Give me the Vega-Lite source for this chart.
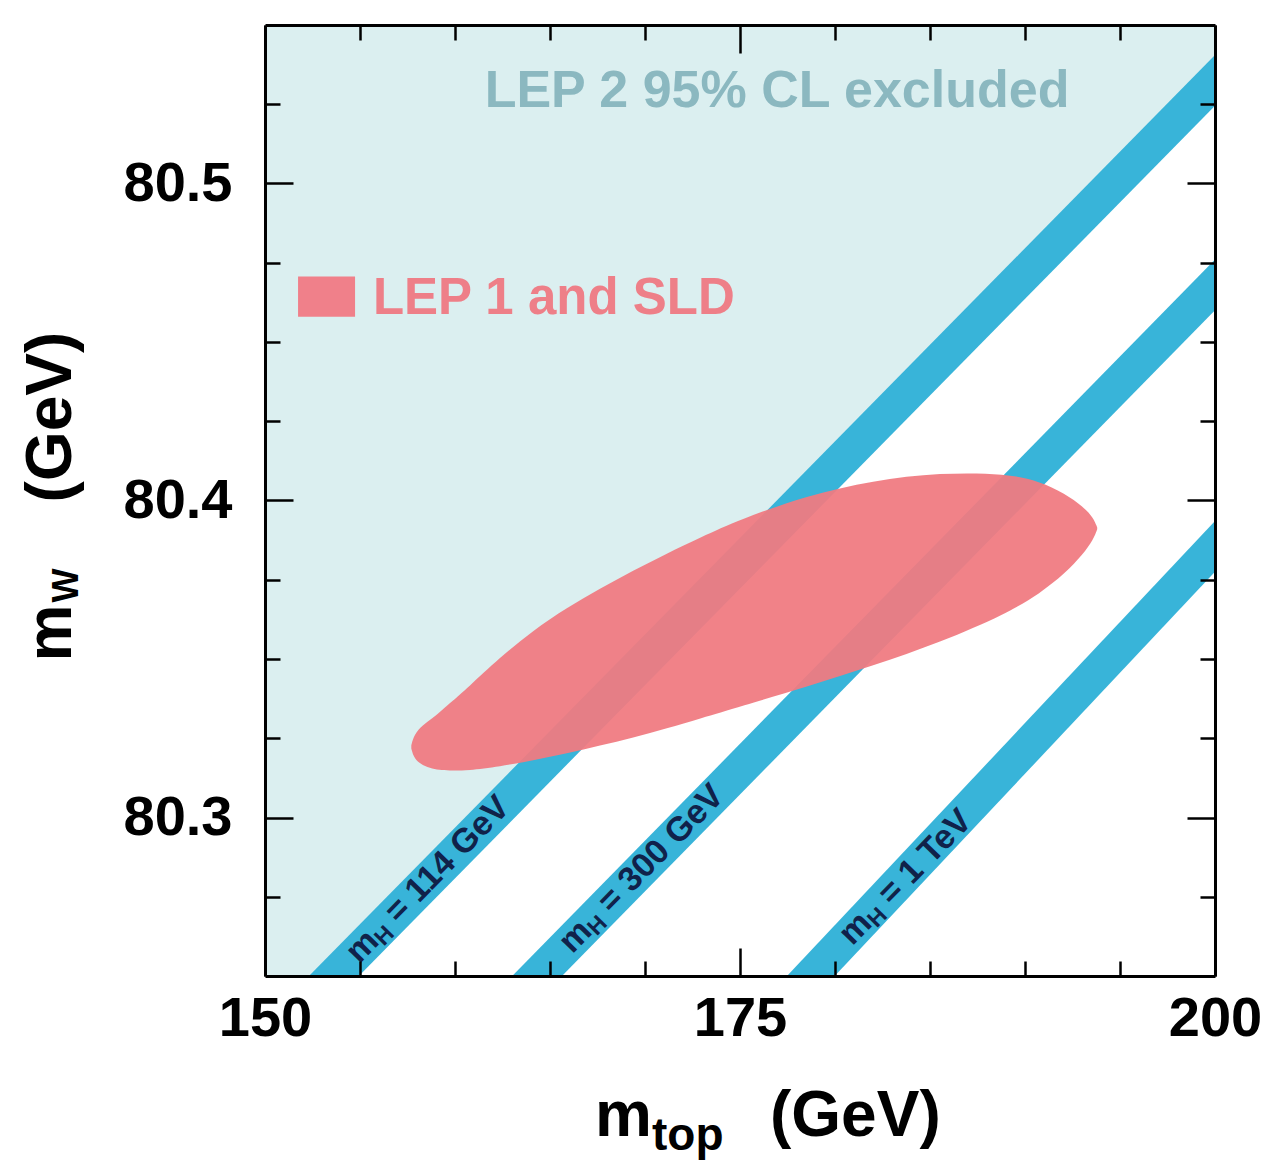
{
"$schema": "https://vega.github.io/schema/vega-lite/v6.json",
"width": 950, "height": 951,
"autosize": {"type": "none"},
"padding": {"left": 265, "top": 25, "right": 51, "bottom": 188},
"background": "white",
"config": {
  "view": {"stroke": null},
  "axis": {"grid": false, "labelFont": "Liberation Sans", "labelFontWeight": "bold", "labelFontSize": 56, "labelColor": "black", "tickColor": "black", "tickWidth": 2.5, "domainColor": "black", "domainWidth": 3, "labelFlush": false, "labelOverlap": false, "labelBound": false}
},
"datasets": {
  "excluded": [{"mtop": 150, "lo": 80.2279, "hi": 80.56}, {"mtop": 200, "lo": 80.5325, "hi": 80.56}],
  "bands": [
    {"band": "114 GeV", "mtop": 150, "lo": 80.2199, "hi": 80.2359},
    {"band": "114 GeV", "mtop": 200, "lo": 80.5245, "hi": 80.5405},
    {"band": "300 GeV", "mtop": 150, "lo": 80.1545, "hi": 80.1705},
    {"band": "300 GeV", "mtop": 200, "lo": 80.4600, "hi": 80.4760},
    {"band": "1 TeV", "mtop": 150, "lo": 80.0590, "hi": 80.0750},
    {"band": "1 TeV", "mtop": 200, "lo": 80.3775, "hi": 80.3935}
  ],
  "ellipse": [
    {"mtop": 157.70, "lo": 80.3218, "hi": 80.3228},
    {"mtop": 157.85, "lo": 80.3185, "hi": 80.3262},
    {"mtop": 158.30, "lo": 80.3164, "hi": 80.3292},
    {"mtop": 158.80, "lo": 80.3154, "hi": 80.3312},
    {"mtop": 159.30, "lo": 80.3149, "hi": 80.3338},
    {"mtop": 159.842, "lo": 80.3148, "hi": 80.3366},
    {"mtop": 160.632, "lo": 80.3148, "hi": 80.3407},
    {"mtop": 162.368, "lo": 80.3161, "hi": 80.3505},
    {"mtop": 164.105, "lo": 80.3180, "hi": 80.3590},
    {"mtop": 165.895, "lo": 80.3202, "hi": 80.3662},
    {"mtop": 167.632, "lo": 80.3227, "hi": 80.3722},
    {"mtop": 169.368, "lo": 80.3252, "hi": 80.3779},
    {"mtop": 171.158, "lo": 80.3281, "hi": 80.3833},
    {"mtop": 172.895, "lo": 80.3312, "hi": 80.3883},
    {"mtop": 175.0, "lo": 80.3350, "hi": 80.3940},
    {"mtop": 178.526, "lo": 80.3413, "hi": 80.4016},
    {"mtop": 182.0, "lo": 80.3479, "hi": 80.4063},
    {"mtop": 185.526, "lo": 80.3552, "hi": 80.4088},
    {"mtop": 189.053, "lo": 80.3644, "hi": 80.4085},
    {"mtop": 190.789, "lo": 80.3707, "hi": 80.4060},
    {"mtop": 192.105, "lo": 80.3770, "hi": 80.4022},
    {"mtop": 193.053, "lo": 80.3830, "hi": 80.3981},
    {"mtop": 193.600, "lo": 80.3877, "hi": 80.3946},
    {"mtop": 193.800, "lo": 80.3909, "hi": 80.3915}
  ],
  "swatch": [{"x1": 151.74, "x2": 154.74, "y1": 80.4580, "y2": 80.4707}],
  "hlabels": [
    {"lab": "= 114 GeV", "mtop": 154.58, "mW": 80.2558},
    {"lab": "= 300 GeV", "mtop": 165.79, "mW": 80.2590},
    {"lab": "= 1 TeV", "mtop": 180.53, "mW": 80.2615}
  ],
  "lep2": [{"lab": "LEP 2 95% CL excluded", "mtop": 176.95, "mW": 80.5240}],
  "lep1": [{"lab": "LEP 1 and SLD", "mtop": 155.68, "mW": 80.4587}],
  "xtm": [{"lab": "m", "mtop": 167.37, "mW": 80.1994}],
  "xtsub": [{"lab": "top", "mtop": 170.37, "mW": 80.1952}],
  "xtunit": [{"lab": "(GeV)", "mtop": 176.58, "mW": 80.1994}],
  "ytm": [{"lab": "m", "mtop": 139.79, "mW": 80.3492}],
  "ytsub": [{"lab": "W", "mtop": 140.16, "mW": 80.3678}],
  "ytunit": [{"lab": "(GeV)", "mtop": 139.79, "mW": 80.3994}]
},
"resolve": {"axis": {"x": "independent", "y": "independent"}},
"layer": [
  {"data": {"name": "excluded"},
   "mark": {"type": "area", "clip": true, "color": "#dbeff0"},
   "encoding": {
     "x": {"field": "mtop", "type": "quantitative", "scale": {"domain": [150, 200], "nice": false, "zero": false},
           "axis": {"orient": "bottom", "values": [150, 175, 200], "format": "d", "tickSize": -28, "labelPadding": 43, "title": null, "domain": true, "zindex": 1}},
     "y": {"field": "lo", "type": "quantitative", "scale": {"domain": [80.25, 80.55], "nice": false, "zero": false},
           "axis": {"orient": "left", "values": [80.3, 80.4, 80.5], "format": ".1f", "tickSize": -28, "labelPadding": 61, "title": null, "domain": true, "zindex": 1}},
     "y2": {"field": "hi"}
   }},
  {"data": {"name": "bands"},
   "mark": {"type": "area", "clip": true, "color": "#38b4d9"},
   "encoding": {
     "x": {"field": "mtop", "type": "quantitative", "scale": {"domain": [150, 200], "nice": false, "zero": false},
           "axis": {"orient": "bottom", "values": [155, 160, 165, 170, 180, 185, 190, 195], "tickSize": -15, "labels": false, "domain": false, "title": null, "zindex": 1}},
     "y": {"field": "lo", "type": "quantitative", "scale": {"domain": [80.25, 80.55], "nice": false, "zero": false},
           "axis": {"orient": "left", "values": [80.275, 80.325, 80.35, 80.375, 80.425, 80.45, 80.475, 80.525], "tickSize": -15, "labels": false, "domain": false, "title": null, "zindex": 1}},
     "y2": {"field": "hi"},
     "detail": {"field": "band"}
   }},
  {"data": {"name": "ellipse"},
   "mark": {"type": "area", "interpolate": "basis", "color": "#f07a81", "opacity": 0.94},
   "encoding": {
     "x": {"field": "mtop", "type": "quantitative", "scale": {"domain": [150, 200], "nice": false, "zero": false},
           "axis": {"orient": "top", "values": [150, 175, 200], "tickSize": -28, "labels": false, "domain": true, "title": null, "zindex": 1}},
     "y": {"field": "lo", "type": "quantitative", "scale": {"domain": [80.25, 80.55], "nice": false, "zero": false},
           "axis": {"orient": "right", "values": [80.3, 80.4, 80.5], "tickSize": -28, "labels": false, "domain": true, "title": null, "zindex": 1}},
     "y2": {"field": "hi"}
   }},
  {"data": {"name": "swatch"},
   "mark": {"type": "rect", "color": "#f0808a"},
   "encoding": {
     "x": {"field": "x1", "type": "quantitative", "scale": {"domain": [150, 200], "nice": false, "zero": false},
           "axis": {"orient": "top", "values": [155, 160, 165, 170, 180, 185, 190, 195], "tickSize": -15, "labels": false, "domain": false, "title": null, "zindex": 1}},
     "x2": {"field": "x2"},
     "y": {"field": "y1", "type": "quantitative", "scale": {"domain": [80.25, 80.55], "nice": false, "zero": false},
           "axis": {"orient": "right", "values": [80.275, 80.325, 80.35, 80.375, 80.425, 80.45, 80.475, 80.525], "tickSize": -15, "labels": false, "domain": false, "title": null, "zindex": 1}},
     "y2": {"field": "y2"}
   }},
  {"data": {"name": "hlabels"},
   "mark": {"type": "text", "text": "m", "angle": 314.4, "align": "left", "baseline": "middle", "font": "Liberation Sans", "fontWeight": "bold", "fontSize": 34, "color": "#10224a"},
   "encoding": {
     "x": {"field": "mtop", "type": "quantitative", "scale": {"domain": [150, 200], "nice": false, "zero": false}, "axis": null},
     "y": {"field": "mW", "type": "quantitative", "scale": {"domain": [80.25, 80.55], "nice": false, "zero": false}, "axis": null}
   }},
  {"data": {"name": "hlabels"},
   "mark": {"type": "text", "text": "H", "angle": 314.4, "align": "left", "baseline": "middle", "dx": 30, "dy": 8, "font": "Liberation Sans", "fontWeight": "bold", "fontSize": 23, "color": "#10224a"},
   "encoding": {
     "x": {"field": "mtop", "type": "quantitative", "scale": {"domain": [150, 200], "nice": false, "zero": false}, "axis": null},
     "y": {"field": "mW", "type": "quantitative", "scale": {"domain": [80.25, 80.55], "nice": false, "zero": false}, "axis": null}
   }},
  {"data": {"name": "hlabels"},
   "mark": {"type": "text", "angle": 314.4, "align": "left", "baseline": "middle", "dx": 56, "font": "Liberation Sans", "fontWeight": "bold", "fontSize": 34, "color": "#10224a"},
   "encoding": {
     "x": {"field": "mtop", "type": "quantitative", "scale": {"domain": [150, 200], "nice": false, "zero": false}, "axis": null},
     "y": {"field": "mW", "type": "quantitative", "scale": {"domain": [80.25, 80.55], "nice": false, "zero": false}, "axis": null},
     "text": {"field": "lab"}
   }},
  {"data": {"name": "lep2"},
   "mark": {"type": "text", "align": "center", "baseline": "alphabetic", "font": "Liberation Sans", "fontWeight": "bold", "fontSize": 52, "color": "#8bb8c0"},
   "encoding": {
     "x": {"field": "mtop", "type": "quantitative", "scale": {"domain": [150, 200], "nice": false, "zero": false}, "axis": null},
     "y": {"field": "mW", "type": "quantitative", "scale": {"domain": [80.25, 80.55], "nice": false, "zero": false}, "axis": null},
     "text": {"field": "lab"}
   }},
  {"data": {"name": "lep1"},
   "mark": {"type": "text", "align": "left", "baseline": "alphabetic", "font": "Liberation Sans", "fontWeight": "bold", "fontSize": 51, "color": "#ee7f88"},
   "encoding": {
     "x": {"field": "mtop", "type": "quantitative", "scale": {"domain": [150, 200], "nice": false, "zero": false}, "axis": null},
     "y": {"field": "mW", "type": "quantitative", "scale": {"domain": [80.25, 80.55], "nice": false, "zero": false}, "axis": null},
     "text": {"field": "lab"}
   }},
  {"data": {"name": "xtm"},
   "mark": {"type": "text", "align": "left", "baseline": "alphabetic", "font": "Liberation Sans", "fontWeight": "bold", "fontSize": 64, "color": "black"},
   "encoding": {
     "x": {"field": "mtop", "type": "quantitative", "scale": {"domain": [150, 200], "nice": false, "zero": false}, "axis": null},
     "y": {"field": "mW", "type": "quantitative", "scale": {"domain": [80.25, 80.55], "nice": false, "zero": false}, "axis": null},
     "text": {"field": "lab"}
   }},
  {"data": {"name": "xtsub"},
   "mark": {"type": "text", "align": "left", "baseline": "alphabetic", "font": "Liberation Sans", "fontWeight": "bold", "fontSize": 46, "color": "black"},
   "encoding": {
     "x": {"field": "mtop", "type": "quantitative", "scale": {"domain": [150, 200], "nice": false, "zero": false}, "axis": null},
     "y": {"field": "mW", "type": "quantitative", "scale": {"domain": [80.25, 80.55], "nice": false, "zero": false}, "axis": null},
     "text": {"field": "lab"}
   }},
  {"data": {"name": "xtunit"},
   "mark": {"type": "text", "align": "left", "baseline": "alphabetic", "font": "Liberation Sans", "fontWeight": "bold", "fontSize": 64, "color": "black"},
   "encoding": {
     "x": {"field": "mtop", "type": "quantitative", "scale": {"domain": [150, 200], "nice": false, "zero": false}, "axis": null},
     "y": {"field": "mW", "type": "quantitative", "scale": {"domain": [80.25, 80.55], "nice": false, "zero": false}, "axis": null},
     "text": {"field": "lab"}
   }},
  {"data": {"name": "ytm"},
   "mark": {"type": "text", "angle": 270, "align": "left", "baseline": "alphabetic", "font": "Liberation Sans", "fontWeight": "bold", "fontSize": 64, "color": "black"},
   "encoding": {
     "x": {"field": "mtop", "type": "quantitative", "scale": {"domain": [150, 200], "nice": false, "zero": false}, "axis": null},
     "y": {"field": "mW", "type": "quantitative", "scale": {"domain": [80.25, 80.55], "nice": false, "zero": false}, "axis": null},
     "text": {"field": "lab"}
   }},
  {"data": {"name": "ytsub"},
   "mark": {"type": "text", "angle": 270, "align": "left", "baseline": "alphabetic", "font": "Liberation Sans", "fontWeight": "bold", "fontSize": 36, "color": "black"},
   "encoding": {
     "x": {"field": "mtop", "type": "quantitative", "scale": {"domain": [150, 200], "nice": false, "zero": false}, "axis": null},
     "y": {"field": "mW", "type": "quantitative", "scale": {"domain": [80.25, 80.55], "nice": false, "zero": false}, "axis": null},
     "text": {"field": "lab"}
   }},
  {"data": {"name": "ytunit"},
   "mark": {"type": "text", "angle": 270, "align": "left", "baseline": "alphabetic", "font": "Liberation Sans", "fontWeight": "bold", "fontSize": 64, "color": "black"},
   "encoding": {
     "x": {"field": "mtop", "type": "quantitative", "scale": {"domain": [150, 200], "nice": false, "zero": false}, "axis": null},
     "y": {"field": "mW", "type": "quantitative", "scale": {"domain": [80.25, 80.55], "nice": false, "zero": false}, "axis": null},
     "text": {"field": "lab"}
   }}
]
}
